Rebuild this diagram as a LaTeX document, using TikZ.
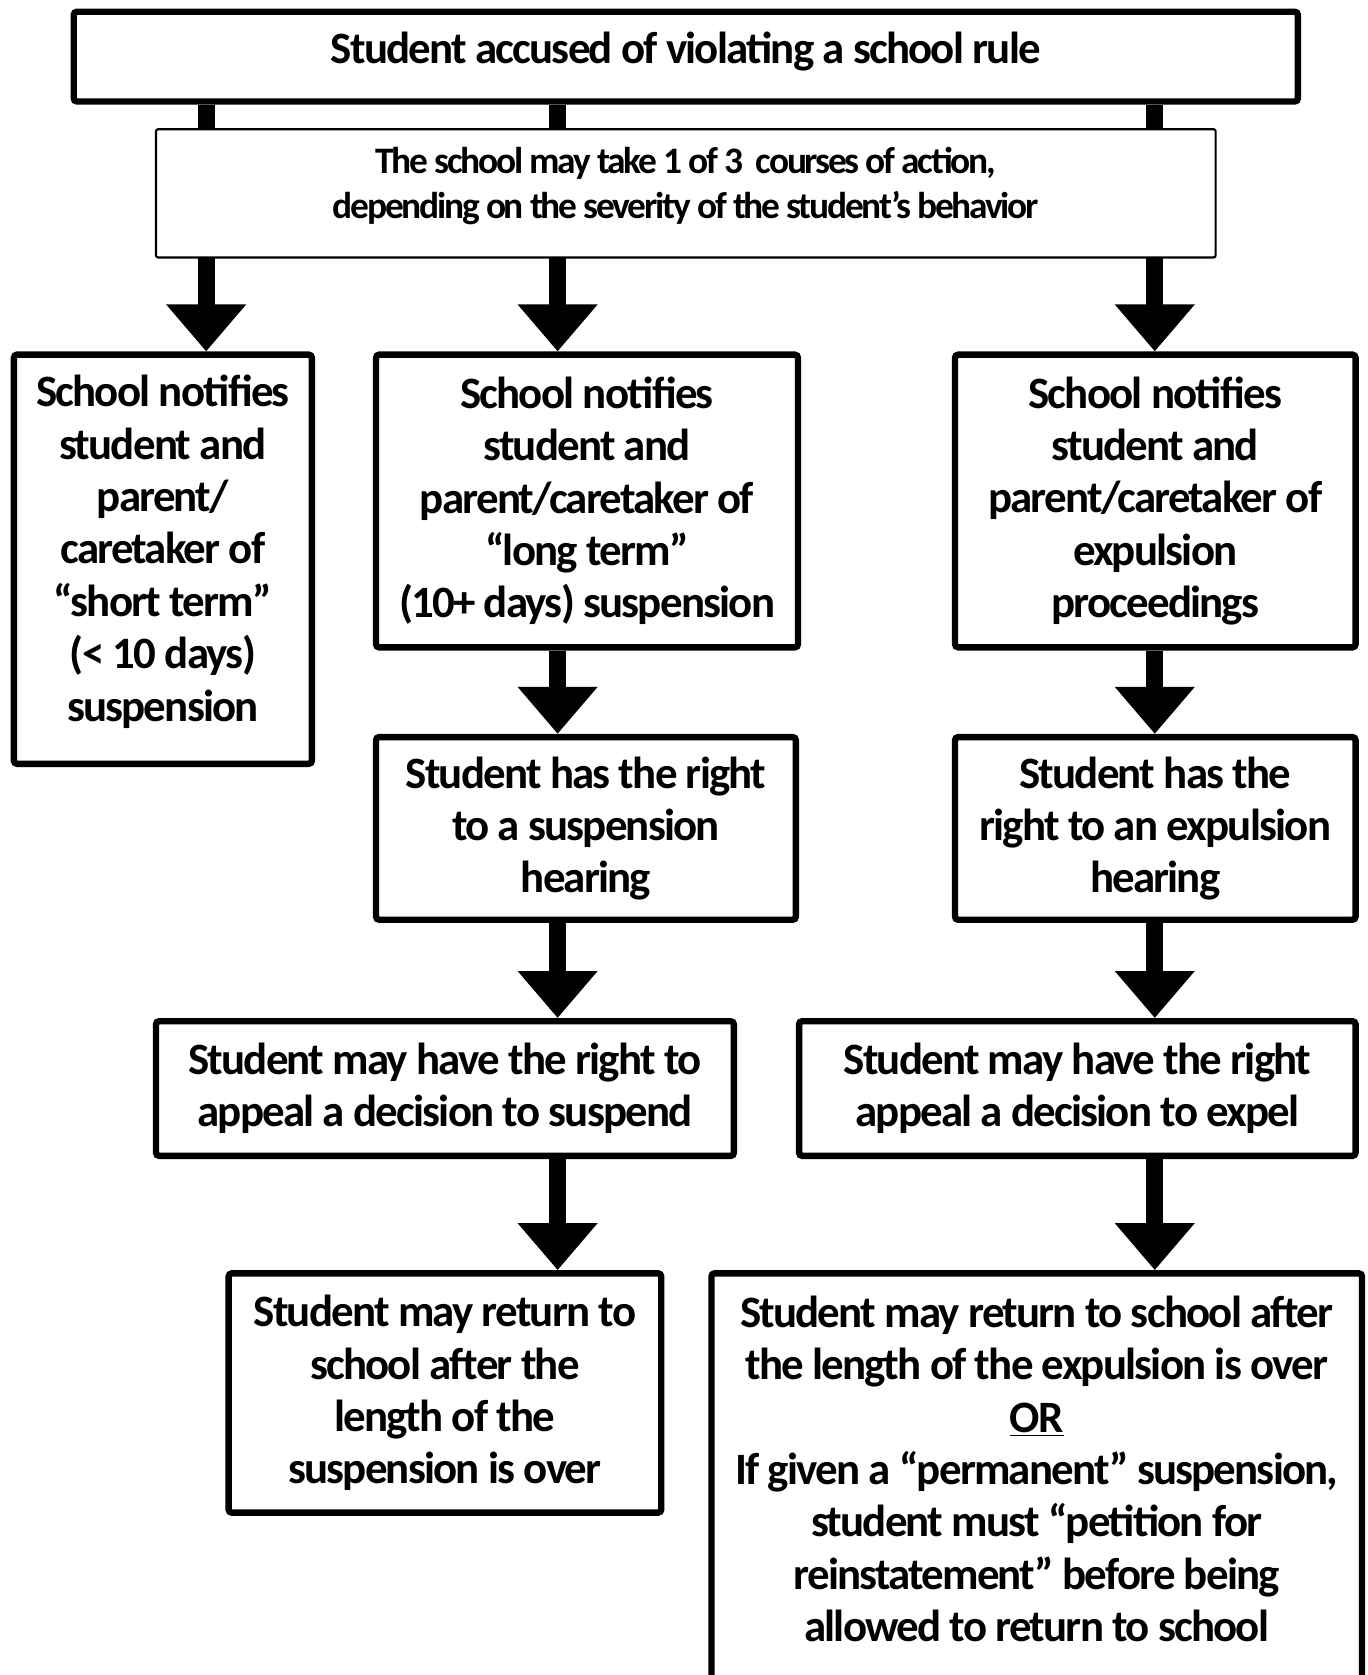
\documentclass[tikz,border=0pt]{standalone}
\usepackage{fontspec}
\setmainfont{Carlito}
\newfontfamily\cfbig[LetterSpace=-4]{Carlito}
\newfontfamily\cfsmall[LetterSpace=-6]{Carlito}
\usetikzlibrary{arrows.meta}
\tikzset{
  tbox/.style={draw=black, line width=3pt, fill=white, rounded corners=1.5pt, inner sep=0pt, align=center,
     font=\cfbig\bfseries\fontsize{21}{24.5}\selectfont},
  thinbox/.style={draw=black, line width=1pt, fill=white, rounded corners=1pt, inner sep=0pt, align=center,
     font=\cfsmall\bfseries\fontsize{17.5}{21}\selectfont},
  txt/.style={inner sep=0pt, align=center, font=\cfbig\bfseries\fontsize{21}{24.5}\selectfont},
  smalltxt/.style={inner sep=0pt, align=center, font=\cfsmall\bfseries\fontsize{17.5}{21}\selectfont},
  flowarrow/.style={draw=black, line width=8pt, -{Triangle[width=36pt,length=22pt]}},
}
\begin{document}
\begin{tikzpicture}[x=0.5pt,y=-0.5pt]
\useasboundingbox (0,0) rectangle (1280,1568);
\clip (0,0) rectangle (1280,1568);
% column coordinates
\coordinate (xa) at (193,0);
\coordinate (xb) at (522,0);
\coordinate (xc) at (1081,0);
% boxes
\node (top) [tbox, minimum width=573pt, minimum height=42pt] at (642,53) {};
\node (toptext) [txt] at (642,48) {Student accused of violating a school rule};
\node (A) [tbox, minimum width=139.5pt, minimum height=191.5pt] at (152.5,523.5) {};
\node (Atext) [txt] at (152.5,516.5) {School notifies\\student and\\parent/\\caretaker of\\“short term”\\(< 10 days)\\suspension};
\node (B) [tbox, minimum width=197.5pt, minimum height=137pt] at (549.5,469) {School notifies\\student and\\parent/caretaker of\\“long term”\\(10+ days) suspension};
\node (C) [tbox, minimum width=187.5pt, minimum height=137pt] at (1081.5,469) {School notifies\\student and\\parent/caretaker of\\expulsion\\proceedings};
\node (D) [tbox, minimum width=196.5pt, minimum height=85.5pt] at (548.5,775.5) {Student has the right\\to a suspension\\hearing};
\node (E) [tbox, minimum width=187.5pt, minimum height=85.5pt] at (1081.5,775.5) {Student has the\\right to an expulsion\\hearing};
\node (F) [tbox, minimum width=270.5pt, minimum height=63pt] at (416.5,1019) {Student may have the right to\\appeal a decision to suspend};
\node (G) [tbox, minimum width=260.5pt, minimum height=63pt] at (1008.5,1019) {Student may have the right\\appeal a decision to expel};
\node (H) [tbox, minimum width=202.5pt, minimum height=112pt] at (416.5,1304) {Student may return to\\school after the\\length of the\\suspension is over};
\node (I) [tbox, minimum width=304.5pt, minimum height=204pt] at (970.5,1396) {};
\node (Itext) [txt] at (970.5,1375) {Student may return to school after\\the length of the expulsion is over\\\underline{OR}\\If given a “permanent” suspension,\\student must “petition for\\reinstatement” before being\\allowed to return to school};
% connectors
\draw[flowarrow] (top.south -| xa) -- (A.north -| xa);
\draw[flowarrow] (top.south -| xb) -- (B.north -| xb);
\draw[flowarrow] (top.south -| xc) -- (C.north -| xc);
\draw[flowarrow] (B.south -| xb) -- (D.north -| xb);
\draw[flowarrow] (C.south -| xc) -- (E.north -| xc);
\draw[flowarrow] (D.south -| xb) -- (F.north -| xb);
\draw[flowarrow] (E.south -| xc) -- (G.north -| xc);
\draw[flowarrow] (F.south -| xb) -- (H.north -| xb);
\draw[flowarrow] (G.south -| xc) -- (I.north -| xc);
% middle box drawn over the shafts
\node (mid) [thinbox, minimum width=496pt, minimum height=60pt] at (642,181) {};
\node (midtext) [smalltxt] at (642,174.5) {The school may take 1 of 3\ \ courses of action,\\depending on the severity of the student’s behavior};
\end{tikzpicture}
\end{document}
